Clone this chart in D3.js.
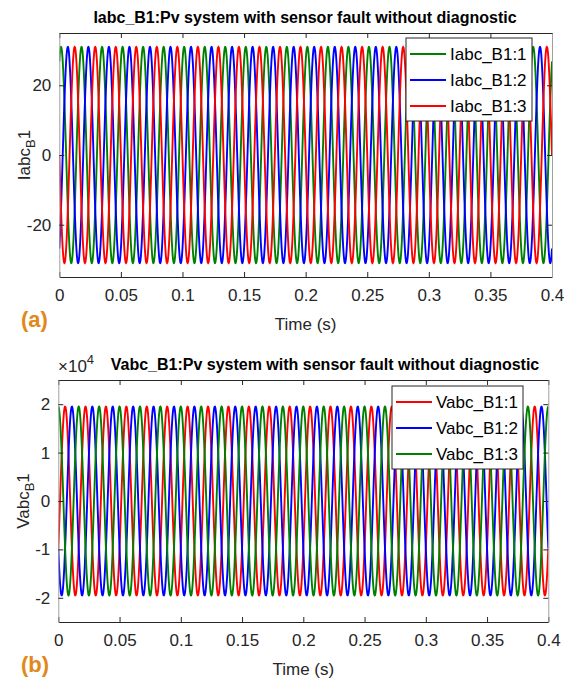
<!DOCTYPE html>
<html>
<head>
<meta charset="utf-8">
<script src="https://cdn.jsdelivr.net/npm/d3@7"></script>
<style>
  html, body { margin: 0; padding: 0; background: #fff; }
  svg { display: block; }
  text { font-family: "Liberation Sans", Arial, Helvetica, sans-serif; }
</style>
</head>
<body>
<svg id="chart" width="570" height="682"></svg>
<script>
// ---------- data ----------
const timeRange = [0, 0.4];           // seconds
const frequencyHz = 60;               // 3 cycles per 0.05 s
const xTicks = [0, 0.05, 0.1, 0.15, 0.2, 0.25, 0.3, 0.35, 0.4];

const currentNames = ["Iabc_B1:1", "Iabc_B1:2", "Iabc_B1:3"];
const currentColors = ["#008000", "#0000ff", "#ff0000"];
const currentAmplitude = [31, 31, 31];        // A (peak)
const currentPhaseDeg = [60, -60, 180];       // sin phase at t = 0
const currentDomain = [-35, 35];
const currentTicks = [-20, 0, 20];

const voltageNames = ["Vabc_B1:1", "Vabc_B1:2", "Vabc_B1:3"];
const voltageColors = ["#ff0000", "#0000ff", "#008000"];
const voltageAmplitude = [1.95, 1.95, 1.95]; // x10^4 V (peak)
const voltagePhaseDeg = [-30, -150, 90];
const voltageDomain = [-2.5, 2.5];
const voltageTicks = [-2, -1, 0, 1, 2];

// ---------- drawing ----------
const svg = d3.select("#chart");
const nSamples = 2400;

function waveform(amp, phaseDeg) {
  const pts = [];
  for (let i = 0; i <= nSamples; i++) {
    const t = timeRange[0] + (timeRange[1] - timeRange[0]) * i / nSamples;
    pts.push([t, amp * Math.sin(2 * Math.PI * frequencyHz * t + phaseDeg * Math.PI / 180)]);
  }
  return pts;
}

function panel(cfg) {
  const g = svg.append("g");
  const x = d3.scaleLinear().domain(timeRange).range([cfg.left, cfg.right]);
  const y = d3.scaleLinear().domain(cfg.domain).range([cfg.bottom, cfg.top]);
  const clipId = "clip" + cfg.id;
  svg.append("clipPath").attr("id", clipId).append("rect")
    .attr("x", cfg.left).attr("y", cfg.top)
    .attr("width", cfg.right - cfg.left).attr("height", cfg.bottom - cfg.top);

  // waves
  const line = d3.line().x(d => x(d[0])).y(d => y(d[1]));
  const wg = g.append("g").attr("clip-path", `url(#${clipId})`);
  cfg.names.forEach((n, i) => {
    wg.append("path").datum(waveform(cfg.amp[i], cfg.phase[i]))
      .attr("d", line).attr("fill", "none")
      .attr("stroke", cfg.colors[i]).attr("stroke-width", 1.9);
  });

  // axes
  const tickFmt = d => String(d);
  const xAxisB = d3.axisBottom(x).tickValues(xTicks).tickFormat(tickFmt).tickSizeInner(-5).tickSizeOuter(0).tickPadding(12);
  const xAxisT = d3.axisTop(x).tickValues(xTicks).tickFormat("").tickSizeInner(-5).tickSizeOuter(0);
  const yAxisL = d3.axisLeft(y).tickValues(cfg.ticks).tickFormat(tickFmt).tickSizeInner(-5).tickSizeOuter(0).tickPadding(8);
  const yAxisR = d3.axisRight(y).tickValues(cfg.ticks).tickFormat("").tickSizeInner(-5).tickSizeOuter(0);

  const ax1 = g.append("g").attr("transform", `translate(0,${cfg.bottom})`).call(xAxisB);
  const ax2 = g.append("g").attr("transform", `translate(0,${cfg.top})`).call(xAxisT);
  const ax3 = g.append("g").attr("transform", `translate(${cfg.left},0)`).call(yAxisL);
  const ax4 = g.append("g").attr("transform", `translate(${cfg.right},0)`).call(yAxisR);
  [ax1, ax2, ax3, ax4].forEach(a => {
    a.selectAll("text").attr("font-size", 17).attr("fill", "#262626")
      .style("font-family", '"Liberation Sans", Arial, sans-serif');
    a.selectAll("line").attr("stroke", "#262626");
    a.select(".domain").attr("stroke", "#262626");
  });
  ax3.select(".domain").attr("stroke", "#a0a0a0");
  ax4.select(".domain").attr("stroke", "#a0a0a0");

  // title
  g.append("text").attr("x", cfg.titleX).attr("y", cfg.top - 10)
    .attr("text-anchor", "middle").attr("font-size", 16).attr("font-weight", "bold")
    .attr("fill", "#000").text(cfg.title);

  // x label
  g.append("text").attr("x", (cfg.left + cfg.right) / 2).attr("y", cfg.bottom + 53)
    .attr("text-anchor", "middle").attr("font-size", 17).attr("fill", "#262626").text("Time (s)");

  // y label with subscript
  const yl = g.append("text")
    .attr("transform", `translate(${cfg.left - 29},${(cfg.top + cfg.bottom) / 2}) rotate(-90)`)
    .attr("text-anchor", "middle").attr("font-size", 17).attr("fill", "#262626");
  yl.append("tspan").text(cfg.ylabel);
  yl.append("tspan").attr("font-size", 13).attr("dy", 5).text("B");
  yl.append("tspan").attr("dy", -5).text("1");

  // panel letter
  g.append("text").attr("x", 21).attr("y", cfg.bottom + 50)
    .attr("font-size", 22).attr("font-weight", "bold").attr("fill", "#e0891a").text(cfg.letter);

  // legend
  const lg = g.append("g");
  lg.append("rect").attr("x", cfg.leg.x).attr("y", cfg.leg.y)
    .attr("width", cfg.leg.w).attr("height", cfg.leg.h)
    .attr("fill", "#fff").attr("stroke", "#262626").attr("stroke-width", 1);
  cfg.names.forEach((n, i) => {
    const cy = cfg.leg.y + 16 + i * 26;
    lg.append("line").attr("x1", cfg.leg.x + 4).attr("x2", cfg.leg.x + 40)
      .attr("y1", cy).attr("y2", cy).attr("stroke", cfg.colors[i]).attr("stroke-width", 2);
    lg.append("text").attr("x", cfg.leg.x + 44).attr("y", cy + 6)
      .attr("font-size", 17).attr("fill", "#000").text(n);
  });
  return g;
}

panel({
  id: "a", left: 59.3, right: 552, top: 33, bottom: 277,
  domain: currentDomain, ticks: currentTicks,
  names: currentNames, colors: currentColors, amp: currentAmplitude, phase: currentPhaseDeg,
  title: "Iabc_B1:Pv system with sensor fault without diagnostic", titleX: 305,
  ylabel: "Iabc", letter: "(a)",
  leg: { x: 406, y: 38, w: 126, h: 83 }
});

panel({
  id: "b", left: 58.3, right: 548.3, top: 380, bottom: 622,
  domain: voltageDomain, ticks: voltageTicks,
  names: voltageNames, colors: voltageColors, amp: voltageAmplitude, phase: voltagePhaseDeg,
  title: "Vabc_B1:Pv system with sensor fault without diagnostic", titleX: 325,
  ylabel: "Vabc", letter: "(b)",
  leg: { x: 392, y: 386, w: 131, h: 83 }
});

// exponent label x10^4
const ex = svg.append("text").attr("x", 58).attr("y", 372).attr("font-size", 17).attr("fill", "#262626");
ex.append("tspan").text("\u00d710");
ex.append("tspan").attr("font-size", 13).attr("dy", -8).text("4");
</script>
</body>
</html>
